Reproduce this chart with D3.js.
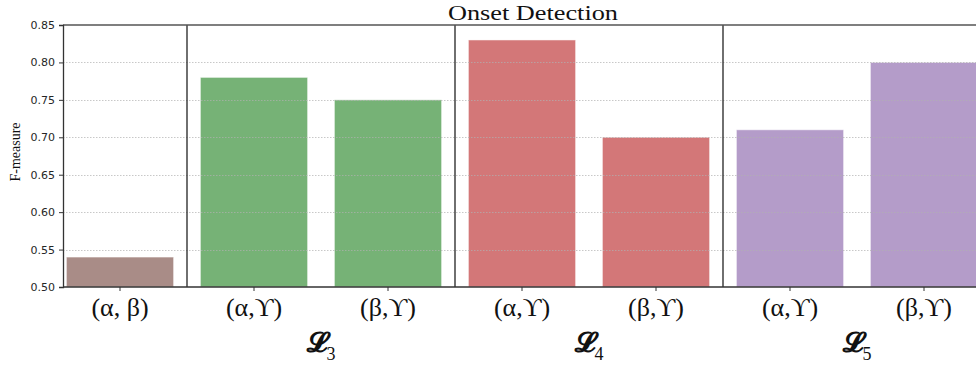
<!DOCTYPE html>
<html>
<head>
<meta charset="utf-8">
<script src="https://cdn.jsdelivr.net/npm/d3@7"></script>
<style>
  html, body { margin: 0; padding: 0; background: #fff; }
  svg { display: block; }
</style>
</head>
<body>
<svg id="chart" width="976" height="369"></svg>
<script>
// Onset detection F-measure for each feature pair, grouped by loss
const pairLabels = ["(α, β)", "(α,ϒ)", "(β,ϒ)", "(α,ϒ)", "(β,ϒ)", "(α,ϒ)", "(β,ϒ)"];
const groupOf    = ["base", "L3", "L3", "L4", "L4", "L5", "L5"];
const fMeasure   = [0.54, 0.78, 0.75, 0.83, 0.70, 0.71, 0.80];
const groupNames = ["L3", "L4", "L5"];
const groupSub   = ["3", "4", "5"];
const yTicks     = [0.50, 0.55, 0.60, 0.65, 0.70, 0.75, 0.80, 0.85];
const groupColor = { base: "#a98c87", L3: "#76b276", L4: "#d37778", L5: "#b49cc9" };

const svg = d3.select("#chart");
const W = 976, H = 369;
const plot = { left: 63, top: 25, bottom: 287 };

const ids = d3.range(pairLabels.length);
const x = d3.scaleBand()
  .domain(ids)
  .range([53, 991])
  .paddingInner(0.2)
  .paddingOuter(0.1);

const y = d3.scaleLinear().domain([0.50, 0.85]).range([plot.bottom, plot.top]);

// clip everything to the visible plot area
svg.append("defs").append("clipPath").attr("id", "plotClip")
  .append("rect").attr("x", plot.left).attr("y", plot.top - 2)
  .attr("width", W - plot.left).attr("height", plot.bottom - plot.top + 4);

const body = svg.append("g").attr("clip-path", "url(#plotClip)");

// bars
body.selectAll("rect.bar").data(ids).join("rect")
  .attr("class", "bar")
  .attr("x", i => x(i))
  .attr("width", x.bandwidth())
  .attr("y", i => y(fMeasure[i]))
  .attr("height", i => y(0.50) - y(fMeasure[i]))
  .attr("fill", i => groupColor[groupOf[i]])
  .attr("stroke", "#fff")
  .attr("stroke-opacity", 0.5)
  .attr("stroke-width", 1);

// dotted horizontal grid
body.selectAll("line.grid").data(yTicks.slice(1, -1)).join("line")
  .attr("class", "grid")
  .attr("x1", plot.left).attr("x2", W)
  .attr("y1", d => Math.round(y(d)) + 0.5).attr("y2", d => Math.round(y(d)) + 0.5)
  .attr("stroke", "#b0b0b0")
  .attr("stroke-opacity", 0.7)
  .attr("stroke-width", 1)
  .attr("stroke-dasharray", "1.5,1.5");

// separators between loss groups
const sepIdx = ids.filter(i => i > 0 && groupOf[i] !== groupOf[i - 1]);
body.selectAll("line.sep").data(sepIdx).join("line")
  .attr("class", "sep")
  .attr("x1", i => x(i) - x.step() * x.paddingInner() / 2)
  .attr("x2", i => x(i) - x.step() * x.paddingInner() / 2)
  .attr("y1", plot.top).attr("y2", plot.bottom)
  .attr("stroke", "#222").attr("stroke-width", 1.3);

// spines
svg.append("line").attr("x1", plot.left).attr("x2", W)
  .attr("y1", plot.top).attr("y2", plot.top)
  .attr("stroke", "#555").attr("stroke-width", 1.5);
svg.append("line").attr("x1", plot.left).attr("x2", W)
  .attr("y1", plot.bottom).attr("y2", plot.bottom)
  .attr("stroke", "#333").attr("stroke-width", 1.3);

// y axis
const yAxis = d3.axisLeft(y).tickValues(yTicks).tickFormat(d3.format(".2f")).tickSize(4).tickPadding(4);
const gy = svg.append("g").attr("transform", `translate(${plot.left},0)`).call(yAxis);
gy.select(".domain").attr("stroke", "#333").attr("stroke-width", 1.3);
gy.selectAll(".tick line").attr("stroke", "#333");
gy.selectAll(".tick text")
  .attr("font-family", "'DejaVu Sans', sans-serif")
  .attr("font-size", 11)
  .attr("fill", "#262626");

// x axis with pair labels
const xAxis = d3.axisBottom(x).tickFormat(i => pairLabels[i]).tickSize(4).tickPadding(7);
const gx = svg.append("g").attr("transform", `translate(0,${plot.bottom})`).call(xAxis);
gx.select(".domain").remove();
gx.selectAll(".tick line").attr("stroke", "#333");
gx.selectAll(".tick text")
  .attr("font-family", "'Liberation Serif', 'DejaVu Serif', serif")
  .attr("font-size", 26)
  .attr("fill", "#111");

// loss group labels centred under each group
groupNames.forEach((g, k) => {
  const members = ids.filter(i => groupOf[i] === g);
  const cx = d3.mean(members, i => x(i) + x.bandwidth() / 2);
  const t = svg.append("text")
    .attr("x", cx).attr("y", 352)
    .attr("text-anchor", "middle")
    .attr("font-family", "'DejaVu Serif', 'Liberation Serif', serif")
    .attr("fill", "#111");
  t.append("tspan").attr("font-size", 28).attr("font-weight", "bold").text("𝓛");
  t.append("tspan").attr("font-size", 18).attr("dy", 8)
    .attr("font-family", "'Liberation Serif', serif").text(groupSub[k]);
});

// y label
svg.append("text")
  .attr("transform", `translate(20,152) rotate(-90)`)
  .attr("text-anchor", "middle")
  .attr("font-family", "'Liberation Serif', serif")
  .attr("font-size", 14)
  .attr("fill", "#111")
  .text("F-measure");

// title
svg.append("text")
  .attr("x", 533).attr("y", 20)
  .attr("text-anchor", "middle")
  .attr("font-family", "'Liberation Serif', serif")
  .attr("font-size", 22)
  .attr("textLength", 170)
  .attr("lengthAdjust", "spacingAndGlyphs")
  .attr("fill", "#111")
  .text("Onset Detection");
</script>
</body>
</html>
